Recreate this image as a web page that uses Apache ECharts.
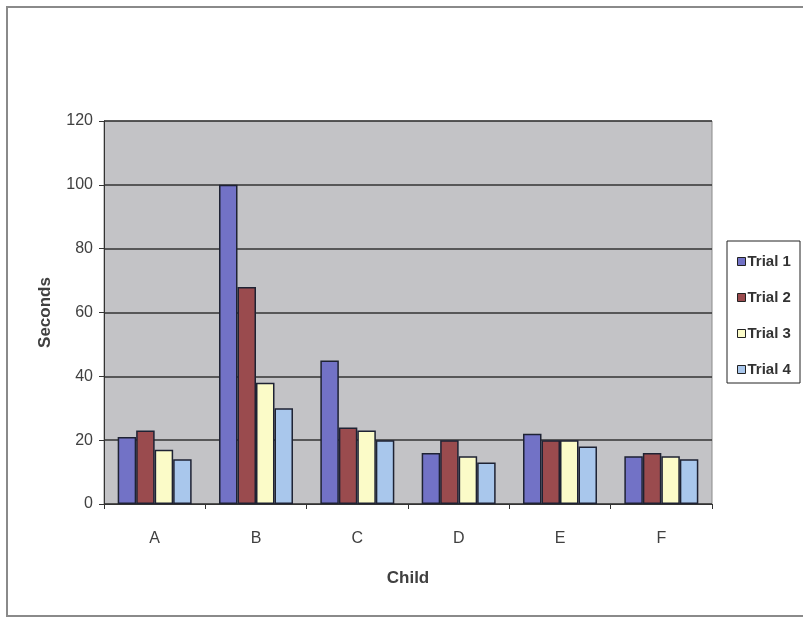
<!DOCTYPE html>
<html>
<head>
<meta charset="utf-8">
<style>
  html, body { margin: 0; padding: 0; background: #ffffff; }
  #chart { width: 803px; height: 619px; }
</style>
<script src="https://cdn.jsdelivr.net/npm/echarts@6/dist/echarts.min.js"></script>
</head>
<body>
<div id="chart"></div>
<script>
// Time taken (seconds) by each child across four trials
const children = ['A', 'B', 'C', 'D', 'E', 'F'];
const trial1 = [21, 100, 45, 16, 22, 15];
const trial2 = [23, 68, 24, 20, 20, 16];
const trial3 = [17, 38, 23, 15, 20, 15];
const trial4 = [14, 30, 20, 13, 18, 14];
const trialNames = ['Trial 1', 'Trial 2', 'Trial 3', 'Trial 4'];
const yTicks = [0, 20, 40, 60, 80, 100, 120];

const colors = ['#7272c6', '#9a4b4e', '#fbfbc8', '#a9c7ec'];
const trials = [trial1, trial2, trial3, trial4];
const font = 'Arial, "Liberation Sans", sans-serif';

const chart = echarts.init(document.getElementById('chart'));
chart.setOption({
  animation: false,
  backgroundColor: '#ffffff',
  graphic: [
    {
      type: 'rect',
      shape: { x: 7, y: 7, width: 805, height: 609 },
      style: { fill: 'none', stroke: '#8a8a8a', lineWidth: 2 },
      silent: true
    },
    {
      type: 'rect',
      shape: { x: 727, y: 241, width: 73, height: 142 },
      style: { fill: '#ffffff', stroke: '#222222', lineWidth: 1 },
      silent: true,
      z: 0
    }
  ],
  grid: {
    left: 104,
    top: 121,
    width: 608,
    height: 383,
    show: true,
    backgroundColor: '#c3c3c6',
    borderColor: '#8a8a8a',
    borderWidth: 1
  },
  legend: {
    orient: 'vertical',
    left: 732,
    top: 249,
    itemWidth: 8,
    itemHeight: 8,
    itemGap: 21,
    icon: 'rect',
    textStyle: { fontFamily: font, fontSize: 15, fontWeight: 'bold', color: '#333333', padding: [0, 0, 0, -3] },
    itemStyle: { borderColor: '#222222', borderWidth: 1 },
    data: trialNames
  },
  xAxis: {
    type: 'category',
    data: children,
    boundaryGap: true,
    name: 'Child',
    nameLocation: 'middle',
    nameGap: 66,
    nameTextStyle: { fontFamily: font, fontSize: 17, fontWeight: 'bold', color: '#404040' },
    axisLine: { lineStyle: { color: '#333333', width: 1 } },
    axisTick: { show: true, length: 5, lineStyle: { color: '#333333' } },
    axisLabel: { fontFamily: font, fontSize: 16, color: '#404040', margin: 27 },
    splitLine: { show: false }
  },
  yAxis: {
    type: 'value',
    min: yTicks[0],
    max: yTicks[yTicks.length - 1],
    interval: yTicks[1] - yTicks[0],
    name: 'Seconds',
    nameLocation: 'middle',
    nameGap: 50,
    nameTextStyle: { fontFamily: font, fontSize: 17, fontWeight: 'bold', color: '#404040' },
    axisLine: { show: true, lineStyle: { color: '#333333', width: 1 } },
    axisTick: { show: true, length: 5, lineStyle: { color: '#333333' } },
    axisLabel: { fontFamily: font, fontSize: 16, color: '#404040', margin: 11 },
    splitLine: { show: true, lineStyle: { color: '#333333', width: 1.5 } }
  },
  series: trials.map((vals, i) => ({
    name: trialNames[i],
    type: 'bar',
    data: vals,
    barGap: '0%',
    barCategoryGap: '27%',
    itemStyle: { color: colors[i], borderColor: '#1e2233', borderWidth: 1.5 }
  }))
});
</script>
</body>
</html>
